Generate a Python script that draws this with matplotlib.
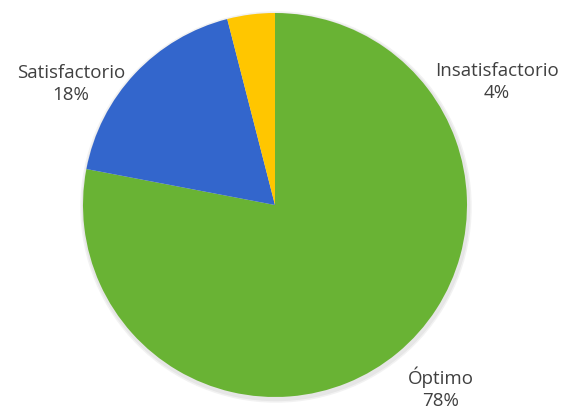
import matplotlib.pyplot as plt

categorias = ['Óptimo', 'Satisfactorio', 'Insatisfactorio']
valores = [78, 18, 4]
colores = ['#69B334', '#3366CC', '#FFC600']

fig = plt.figure(figsize=(5.69, 4.08), dpi=100)
ax = fig.add_axes([0, 0, 1, 1])

# sombra suave
for r, col in [(195, '#f2f2f2'), (193.5, '#e6e6e6')]:
    ax.add_patch(plt.Circle((276, 201), r, color=col, zorder=0))

ax.pie(valores, colors=colores, startangle=90, counterclock=False,
       center=(275, 203), radius=192, frame=True,
       wedgeprops=dict(linewidth=0))
ax.set_xlim(0, 569)
ax.set_ylim(0, 408)
ax.set_aspect('equal')
ax.axis('off')

pos = {'Óptimo': (441, 20), 'Satisfactorio': (71, 324), 'Insatisfactorio': (497, 326)}
for c, v in zip(categorias, valores):
    x, y = pos[c]
    ax.text(x, y, f'{c}\n{v}%', ha='center', va='center', fontsize=13.5,
            family='Open Sans', color='#404040', linespacing=1.25)

fig.savefig('out.png', dpi=100)
